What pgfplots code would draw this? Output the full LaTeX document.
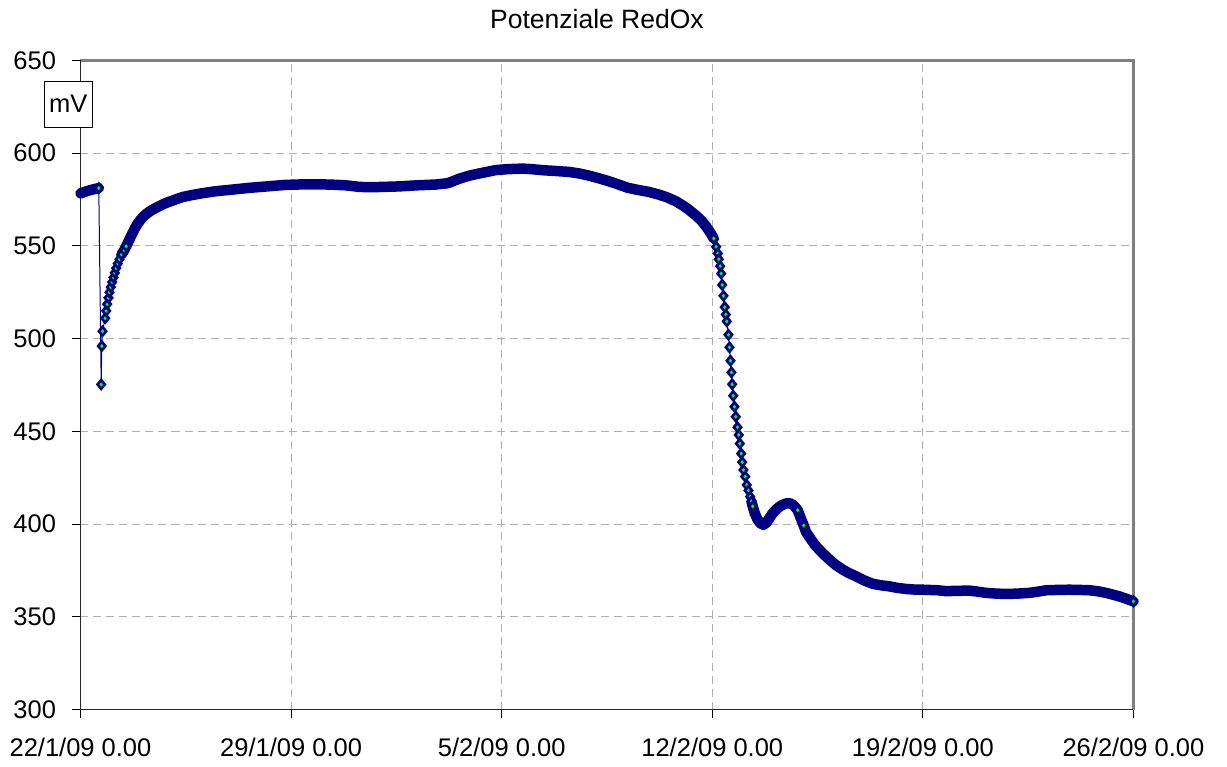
\documentclass[border=0pt]{standalone}
\usepackage{pgfplots}
\pgfplotsset{compat=1.18}
\usepackage{pgfplotstable}
\usepackage{fontspec}
\setmainfont{Liberation Sans}
\definecolor{navy}{RGB}{0,0,128}
\definecolor{mkgreen}{RGB}{0,255,0}
\definecolor{gridgray}{RGB}{175,175,175}
\definecolor{bordergray}{RGB}{128,128,128}
\newcommand{\tickfont}{\fontsize{25.5bp}{30bp}\selectfont}

% x = days since 22/1/09 0.00, y = mV, d = part of dense band, g = isolated marker visible
\pgfplotstableread{
x y d g
0 578.3 1 0
0.15 579.2 1 0
0.3 580.0 1 0
0.45 580.6 1 0
0.608 581.2 1 1
0.688 475.3 0 1
0.708 496.0 0 1
0.731 504.0 0 1
0.82 511.0 0 1
0.854 515.0 0 1
0.887 518.6 0 1
0.93 522.0 0 1
0.964 525.0 0 1
1.007 527.8 0 1
1.054 530.5 0 1
1.097 533.0 0 1
1.14 535.5 0 1
1.187 538.0 0 1
1.24 540.5 0 1
1.296 542.8 0 1
1.363 545.4 1 1
1.452 547.7 1 1
1.519 549.8 1 1
1.6 552.6 1 0
1.7 556.0 1 0
1.8 559.3 1 0
1.9 562.0 1 0
2.0 564.2 1 0
2.1 566.0 1 0
2.2 567.4 1 0
2.3 568.6 1 0
2.4 569.6 1 0
2.6 571.3 1 0
2.8 572.9 1 0
3.0 574.1 1 0
3.2 575.3 1 0
3.4 576.4 1 0
3.7 577.4 1 0
4.0 578.3 1 0
4.5 579.5 1 0
5.0 580.3 1 0
5.6 581.3 1 0
6.2 582.1 1 0
6.8 582.9 1 0
7.4 583.2 1 0
7.8 583.2 1 0
8.3 583.1 1 0
8.8 582.7 1 0
9.3 581.8 1 0
9.7 581.7 1 0
10.0 581.8 1 0
10.6 582.1 1 0
11.2 582.7 1 0
11.8 583.1 1 0
12.2 583.8 1 0
12.4 585.0 1 0
12.6 586.3 1 0
12.9 587.8 1 0
13.2 588.9 1 0
13.5 589.9 1 0
13.8 590.9 1 0
14.2 591.4 1 0
14.7 591.7 1 0
15.0 591.4 1 0
15.4 590.8 1 0
15.8 590.4 1 0
16.25 589.9 1 0
16.6 589.0 1 0
16.9 587.9 1 0
17.2 586.6 1 0
17.5 585.2 1 0
17.8 583.6 1 0
18.2 581.3 1 0
18.5 580.3 1 0
18.9 579.1 1 0
19.2 577.8 1 0
19.5 576.2 1 0
19.8 574.0 1 0
20.0 572.0 1 0
20.2 569.8 1 0
20.45 566.5 1 0
20.65 563.5 1 0
20.8 560.4 1 0
20.95 556.8 1 0
21.05 554.0 1 1
21.129 549.5 0 1
21.183 545.9 0 1
21.216 542.8 0 1
21.263 539.1 0 1
21.296 535.1 0 1
21.329 529.0 0 1
21.372 523.1 0 1
21.415 517.0 0 1
21.45 513.0 0 1
21.482 509.3 0 1
21.538 502.1 0 1
21.572 495.3 0 1
21.605 488.1 0 1
21.638 481.8 0 1
21.661 475.4 0 1
21.695 469.2 0 1
21.738 463.3 0 1
21.781 457.9 0 1
21.838 452.2 0 1
21.881 448.1 0 1
21.914 443.4 0 1
21.961 438.0 0 1
21.994 433.4 0 1
22.037 429.2 0 1
22.094 425.6 0 1
22.147 421.1 0 1
22.203 418.1 0 1
22.259 414.8 0 1
22.303 412.2 1 1
22.346 409.5 1 1
22.412 405.9 1 0
22.5 402.6 1 0
22.6 400.4 1 0
22.7 399.6 1 0
22.8 400.8 1 0
22.9 403.2 1 0
23.0 405.7 1 0
23.15 408.3 1 0
23.3 410.1 1 0
23.45 411.1 1 0
23.57 411.3 1 0
23.7 410.2 1 0
23.84 407.5 1 1
23.95 402.8 1 0
24.04 399.2 1 1
24.12 395.6 1 0
24.3 391.3 1 0
24.45 388.0 1 0
24.7 383.8 1 0
24.9 380.8 1 0
25.1 378.0 1 0
25.34 375.4 1 0
25.55 373.5 1 0
25.78 371.8 1 0
26.05 369.6 1 0
26.33 367.8 1 0
26.6 367.0 1 0
26.89 366.4 1 0
27.15 365.6 1 0
27.44 365.0 1 0
27.7 364.7 1 0
28.0 364.6 1 0
28.5 364.3 1 0
28.77 363.8 1 0
29.1 364.0 1 0
29.55 364.1 1 0
29.8 363.6 1 0
30.1 362.9 1 0
30.45 362.5 1 0
30.77 362.3 1 0
31.15 362.5 1 0
31.54 362.9 1 0
31.8 363.5 1 0
32.1 364.3 1 0
32.5 364.5 1 0
32.87 364.6 1 0
33.2 364.5 1 0
33.54 364.3 1 0
33.8 363.8 1 0
34.09 362.9 1 0
34.3 362.0 1 0
34.53 361.0 1 0
34.75 359.8 1 0
35.0 358.3 1 1
}\redox

\begin{document}
\begin{tikzpicture}
\useasboundingbox (-80.5bp,-57.5bp) rectangle (1146.5bp,709.5bp);
\begin{axis}[
  at={(0,0)}, anchor=south west,
  scale only axis, width=1053bp, height=649bp,
  xmin=0, xmax=35, ymin=300, ymax=650,
  xtick={0,7,14,21,28,35},
  xticklabels={22/1/09 0.00,29/1/09 0.00,5/2/09 0.00,12/2/09 0.00,19/2/09 0.00,26/2/09 0.00},
  ytick={300,350,400,450,500,550,600,650},
  tick align=outside, xtick pos=left, ytick pos=left,
  major tick length=8bp,
  tick style={black, line width=1bp},
  grid=major,
  major grid style={draw=gridgray, line width=1bp, dash pattern=on 8bp off 5bp},
  axis line style={draw=none},
  clip=false,
  tick label style={font=\tickfont},
  /pgf/number format/assume math mode=true,
  yticklabel style={anchor=east, xshift=-13bp},
  xticklabel style={anchor=north, yshift=-17bp},
  unbounded coords=jump,
]
\draw[bordergray, line width=2.5bp] (rel axis cs:0,1) -- (rel axis cs:1,1) -- (rel axis cs:1,0);
\draw[black!85, line width=1.6bp] (rel axis cs:0,1) -- (rel axis cs:0,0) -- (rel axis cs:1,0);
% thin connecting line through all readings
\addplot[navy, line width=1bp, no markers] table[x=x, y=y] {\redox};
% dense stretches, where the markers merge into a band
\addplot[navy, line width=10.5bp, line cap=round, line join=round, no markers,
  restrict expr to domain={\thisrow{d}}{1:1}] table[x=x, y=y] {\redox};
% readings whose markers stand apart
\addplot[only marks, mark=diamond*, mark size=4.4bp,
  mark options={draw=navy, fill=mkgreen, line width=2.6bp, xscale=1.1},
  restrict expr to domain={\thisrow{g}}{1:1}] table[x=x, y=y] {\redox};
\node[draw=black, line width=1bp, fill=white, minimum width=48bp, minimum height=46bp,
  inner sep=0pt, font=\tickfont] at (rel axis cs:0,1) [xshift=-12.2bp, yshift=-43.7bp] {mV};
\node[anchor=base, font=\fontsize{26.5bp}{31bp}\selectfont] at (rel axis cs:0.4905,1) [yshift=31.8bp] {Potenziale RedOx};
\end{axis}
\end{tikzpicture}
\end{document}
